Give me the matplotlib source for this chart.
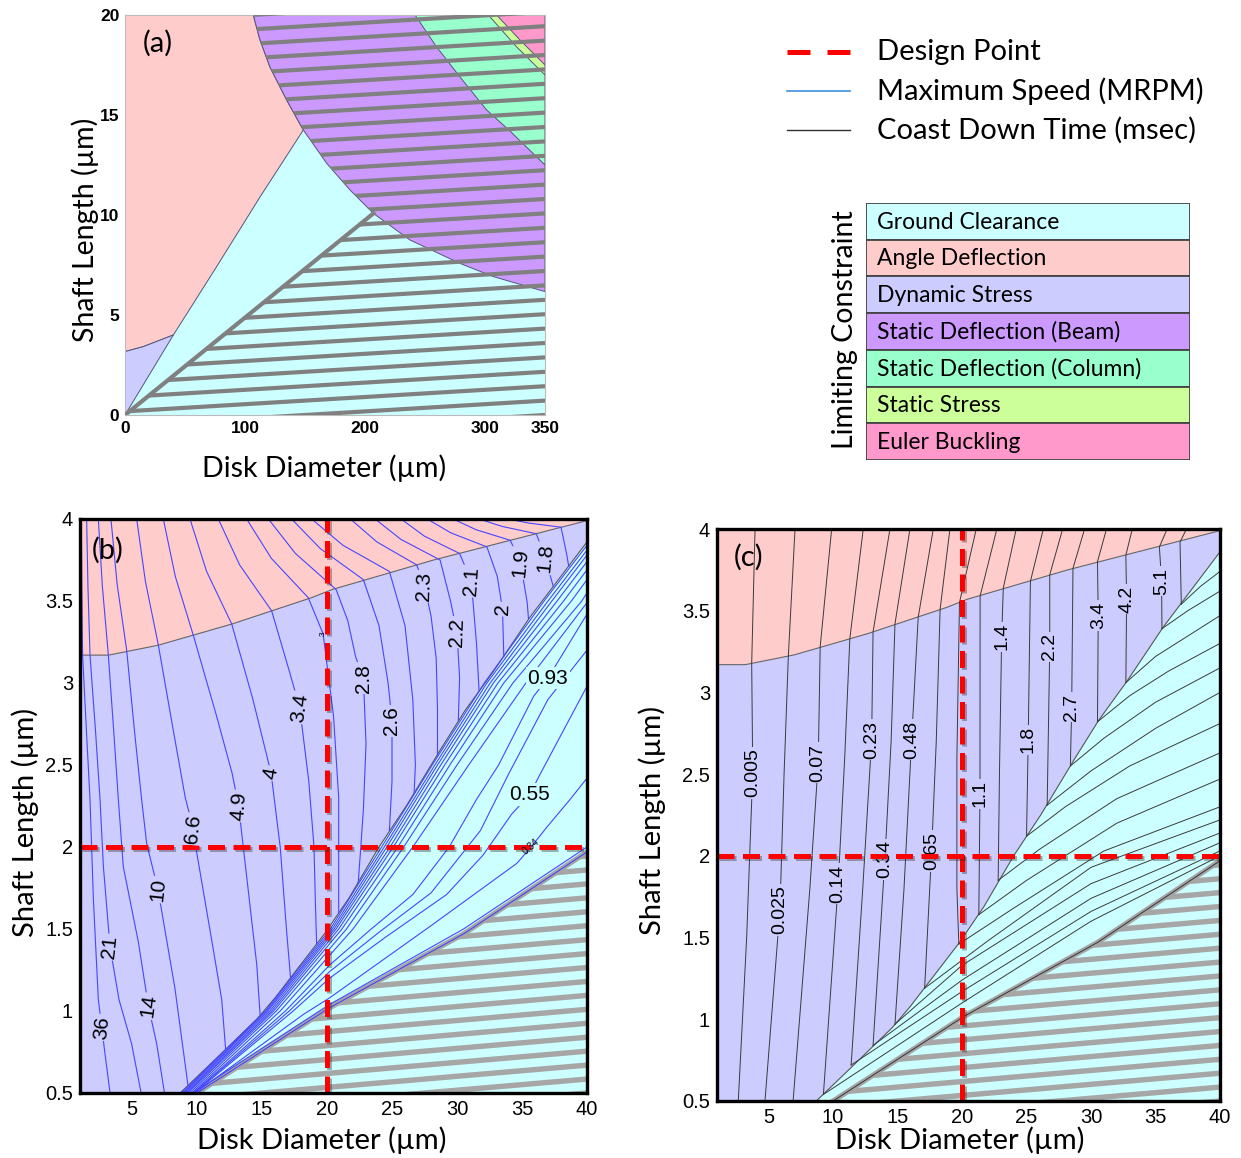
import numpy as np
import matplotlib
matplotlib.use('Agg')
import matplotlib.pyplot as plt
import matplotlib.patheffects as pe
from matplotlib.patches import Polygon, Rectangle
from matplotlib.lines import Line2D

W, H = 1241, 1158
LABEL_FONT = ['Lato', 'DejaVu Sans']
NUM_FONT = ['Liberation Sans', 'DejaVu Sans']

# limiting constraints and the colour used for each one
constraint_names = ['Ground Clearance', 'Angle Deflection', 'Dynamic Stress',
                    'Static Deflection (Beam)', 'Static Deflection (Column)',
                    'Static Stress', 'Euler Buckling']
constraint_colors = ['#CCFFFF', '#FFCCCC', '#CCCCFF', '#CC99FF', '#99FFCC', '#CCFF99', '#FF99CC']
GC, AD, DS, SB, SC, SS, EB = constraint_colors

# ---- (a) whole design space: disk diameter 0-350 um, shaft length 0-20 um
a_dyn_x = [0, 15.3, 40.3]
a_dyn_y = [3.17, 3.42, 4.0]
a_gc_x = [0, 40.3, 76.4, 112.5, 148.6]
a_gc_y = [0, 4.0, 7.42, 10.9, 14.25]
a_beam_up_x = [148.6, 134.7, 120.8, 112.5, 106.9]
a_beam_up_y = [14.25, 15.75, 17.4, 18.75, 20]
a_beam_low_x = [148.6, 168.1, 187.5, 207, 237.5, 279.2, 307, 350]
a_beam_low_y = [14.25, 12.58, 11.25, 10.08, 8.75, 7.58, 6.92, 6.17]
a_col_x = [241.7, 259.7, 279.2, 301.4, 320.8, 350]
a_col_y = [20, 18.4, 16.9, 15.25, 14.2, 12.5]
a_stress_x = [302.8, 326.4, 350]
a_stress_y = [20, 18.4, 17.0]
a_euler_x = [309.7, 329.2, 350]
a_euler_y = [20, 18.75, 17.5]
a_infeasible_x = [0, 207]
a_infeasible_y = [0, 10.08]

# ---- (b), (c) zoom: disk diameter 1-40 um, shaft length 0.5-4 um
z_pink_x = [1, 3.2, 7, 12.7, 18.8, 20.4, 28.2, 34.1, 40]
z_pink_y = [3.17, 3.17, 3.23, 3.36, 3.52, 3.57, 3.75, 3.87, 3.99]
z_gc_x = [8.7, 11.6, 14.6, 16.0, 19.8, 21.7, 24.0, 26.1, 28.7, 30.6, 32.8, 35.6, 40]
z_gc_y = [0.5, 0.72, 0.95, 1.08, 1.47, 1.69, 2.0, 2.25, 2.59, 2.83, 3.07, 3.40, 3.86]
z_infeasible_x = [10.0, 20.2, 30.5, 40]
z_infeasible_y = [0.5, 1.02, 1.47, 1.97]
design_d = 20
design_l = 2

# maximum speed (MRPM) contours, stress / deflection limited part
speed_b = {
    '36': [(1.1, 4.0), (1.14, 3.59), (1.2, 3.17), (1.5, 2.7), (1.77, 2.29), (2.03, 1.68), (2.41, 1.07), (2.92, 0.74), (3.31, 0.5)],
    '21': [(1.51, 4.0), (1.61, 3.59), (1.77, 3.17), (2.2, 2.7), (2.54, 2.29), (2.8, 1.88), (3.31, 1.39), (4.0, 1.07), (4.97, 0.8), (5.7, 0.5)],
    '14': [(2.41, 4.0), (2.72, 3.59), (3.18, 3.17), (3.6, 2.7), (3.95, 2.29), (4.33, 1.88), (5.49, 1.42), (6.26, 1.03), (6.9, 0.8), (7.5, 0.5)],
    '10': [(3.38, 4.0), (3.86, 3.6), (4.59, 3.2), (5.2, 2.7), (5.74, 2.29), (6.13, 2.02), (7.0, 1.74), (8.3, 1.14), (9.3, 0.55)],
    '6.6': [(5.36, 4.0), (6.03, 3.62), (7.03, 3.23), (8.2, 2.7), (9.1, 2.3), (9.72, 2.11), (9.97, 1.97), (11.2, 1.4), (11.9, 1.07), (12.2, 0.77)],
    '4.9': [(7.41, 4.0), (8.33, 3.65), (9.72, 3.29), (11.5, 2.8), (12.7, 2.45), (13.2, 2.25), (13.56, 2.0), (14.6, 1.28), (14.85, 0.98)],
    '4': [(9.46, 4.0), (10.74, 3.68), (12.67, 3.36), (14.3, 2.9), (15.7, 2.45), (16.4, 2.0), (16.9, 1.48), (17.2, 1.2)],
    '3.4': [(11.64, 4.0), (13.28, 3.72), (15.74, 3.44), (17.0, 3.1), (17.9, 2.85), (18.6, 2.4), (19.0, 2.0), (19.1, 1.68), (19.2, 1.41)],
    '3': [(13.82, 4.0), (15.72, 3.76), (18.56, 3.52), (19.7, 3.3), (20.5, 2.8), (20.9, 2.3), (20.9, 2.0), (20.9, 1.6)],
    '2.8': [(15.49, 4.0), (17.57, 3.79), (20.7, 3.57), (21.6, 3.38), (22.2, 3.16), (22.8, 3.03), (23.0, 2.63), (22.8, 2.23), (22.6, 2.0), (22.4, 1.78)],
    '2.6': [(17.28, 4.0), (19.48, 3.82), (22.8, 3.63), (24.0, 3.35), (24.7, 3.0), (25.0, 2.77), (25.0, 2.4), (24.8, 2.1)],
    '2.5': [(18.82, 4.0), (21.22, 3.84), (24.8, 3.68), (26.0, 3.35), (26.6, 2.9), (26.8, 2.5), (26.7, 2.33)],
    '2.3': [(21.8, 4.0), (23.84, 3.86), (26.9, 3.72), (27.5, 3.59), (28.0, 3.41), (28.4, 3.15), (28.5, 2.84), (28.5, 2.56)],
    '2.2': [(23.7, 4.0), (25.7, 3.875), (28.7, 3.75), (29.5, 3.5), (30.0, 3.31), (30.2, 3.03), (30.1, 2.77)],
    '2.1': [(25.7, 4.0), (27.5, 3.895), (30.2, 3.79), (31.1, 3.62), (31.5, 3.24), (31.7, 2.95)],
    '2': [(27.7, 4.0), (29.54, 3.915), (32.3, 3.83), (33.1, 3.65), (33.5, 3.45), (33.6, 3.16)],
    '1.9': [(29.7, 4.0), (31.46, 3.935), (34.1, 3.87), (34.9, 3.73), (35.4, 3.49), (35.5, 3.39)],
    '1.8': [(31.7, 4.0), (33.46, 3.955), (36.1, 3.91), (36.8, 3.76), (37.4, 3.59)],
    '1.7': [(33.9, 4.0), (35.54, 3.975), (38.0, 3.95), (38.4, 3.8), (38.6, 3.71)],
}
# maximum speed contours inside the ground clearance region
speed_gc_b = {
    'g1': [(8.8, 0.5), (15.25, 1.0), (20.25, 1.5), (24.2, 2.0), (28.1, 2.5), (32.1, 3.0), (36.7, 3.5), (40, 3.84)],
    'g2': [(8.9, 0.5), (15.35, 1.0), (20.4, 1.5), (24.4, 2.0), (28.3, 2.5), (32.3, 3.0), (37.0, 3.5), (40, 3.81)],
    'g3': [(9.0, 0.5), (15.45, 1.0), (20.55, 1.5), (24.6, 2.0), (28.5, 2.5), (32.55, 3.0), (37.3, 3.5), (40, 3.78)],
    'g4': [(9.1, 0.5), (15.6, 1.0), (20.7, 1.5), (24.85, 2.0), (28.75, 2.5), (32.8, 3.0), (37.7, 3.5), (40, 3.74)],
    'g5': [(9.2, 0.5), (15.75, 1.0), (20.9, 1.5), (25.1, 2.0), (29.05, 2.5), (33.15, 3.0), (38.2, 3.5), (40, 3.69)],
    'g6': [(9.3, 0.5), (15.9, 1.0), (21.15, 1.5), (25.45, 2.0), (29.45, 2.5), (33.6, 3.0), (38.8, 3.5), (40, 3.63)],
    'g7': [(9.45, 0.5), (16.1, 1.0), (21.5, 1.5), (25.9, 2.0), (30.0, 2.5), (34.3, 3.0), (39.6, 3.5), (40, 3.55)],
    'g8': [(9.6, 0.5), (16.4, 1.0), (22.0, 1.5), (26.6, 2.0), (30.9, 2.5), (35.3, 3.0), (40, 3.49)],
    '0.93': [(9.7, 0.5), (16.8, 1.0), (20.2, 1.28), (23.4, 1.5), (26.6, 1.71), (29.4, 2.0), (31.5, 2.29), (33.2, 2.5), (35.9, 2.92), (37.0, 3.03), (40, 3.42)],
    '0.7': [(9.75, 0.5), (17.1, 1.0), (20.2, 1.24), (24.0, 1.48), (28.0, 1.72), (31.8, 2.1), (34.0, 2.45), (37.0, 2.9), (40, 3.2)],
    '0.55': [(9.8, 0.5), (17.4, 1.0), (20.2, 1.2), (24.5, 1.45), (29.2, 1.71), (32.0, 1.95), (34.2, 2.2), (35.6, 2.32), (36.3, 2.43), (40, 2.98)],
    '0.34': [(9.85, 0.5), (18.2, 0.98), (20.2, 1.08), (28.0, 1.52), (34.6, 1.9), (35.7, 2.0), (36.9, 2.12), (38.7, 2.29), (40, 2.42)],
    'g9': [(9.9, 0.51), (20.2, 1.04), (30.5, 1.5), (40, 2.0)],
}
# label placement (x, y, rotation, size) on the speed contours
speed_label_b = {
    '36': (2.67, 0.9, 84, 15), '21': (3.31, 1.39, 84, 15), '14': (6.26, 1.03, 82, 15),
    '10': (7.0, 1.74, 84, 15), '6.6': (9.72, 2.11, 84, 15), '4.9': (13.2, 2.25, 86, 15),
    '4': (15.7, 2.45, 80, 15), '3.4': (17.9, 2.85, 82, 15), '3': (19.7, 3.3, 90, 6),
    '2.8': (22.8, 3.03, 90, 15), '2.6': (25.0, 2.77, 90, 15), '2.3': (27.5, 3.59, 88, 15),
    '2.2': (30.0, 3.31, 88, 15), '2.1': (31.1, 3.62, 86, 15), '2': (33.5, 3.45, 88, 15),
    '1.9': (34.9, 3.73, 84, 15), '1.8': (36.8, 3.76, 84, 15),
    '0.93': (37.0, 3.03, 0, 15), '0.55': (35.6, 2.32, 0, 15), '0.34': (35.7, 2.0, 40, 7),
}

# coast down time (msec) contours, stress / deflection limited part
coast_c = {
    '0.005': [(3.95, 4.0), (3.69, 3.18), (3.77, 2.51), (3.3, 1.5), (2.65, 0.5)],
    '0.025': [(7.05, 4.0), (6.53, 3.22), (6.2, 2.5), (5.88, 1.67), (4.72, 0.5)],
    '0.07': [(9.89, 4.0), (9.0, 3.28), (8.85, 2.57), (8.2, 1.8), (6.9, 0.5)],
    '0.14': [(12.34, 4.0), (11.3, 3.33), (10.9, 2.6), (10.4, 1.83), (9.25, 0.54)],
    '0.23': [(14.41, 4.0), (13.1, 3.37), (12.99, 2.71), (12.3, 1.8), (11.4, 0.72)],
    '0.34': [(15.96, 4.0), (14.8, 3.42), (14.5, 2.7), (14.02, 1.98), (13.1, 0.84)],
    '0.48': [(17.77, 4.0), (16.6, 3.46), (16.09, 2.71), (15.5, 1.8), (14.8, 0.97)],
    '0.65': [(19.06, 4.0), (18.3, 3.51), (18.0, 2.7), (17.64, 2.03), (17.1, 1.19)],
    '0.85': [(21.1, 4.0), (19.8, 3.55), (19.6, 2.6), (19.6, 1.8), (19.75, 1.46)],
    '1.1': [(22.7, 4.0), (21.4, 3.59), (21.39, 2.38), (21.3, 1.64)],
    '1.4': [(24.2, 4.0), (23.2, 3.64), (23.07, 3.34), (22.9, 2.5), (22.8, 1.85)],
    '1.8': [(26.3, 4.0), (25.3, 3.68), (25.13, 2.71), (25.0, 2.12)],
    '2.2': [(27.8, 4.0), (26.8, 3.72), (26.8, 3.28), (26.6, 2.31)],
    '2.7': [(29.5, 4.0), (28.6, 3.76), (28.5, 2.91), (28.4, 2.56)],
    '3.4': [(31.2, 4.0), (30.5, 3.8), (30.56, 3.47), (30.5, 2.82)],
    '4.2': [(33.2, 4.0), (32.7, 3.84), (32.76, 3.57), (32.7, 3.06)],
    '5.1': [(35.9, 4.0), (35.3, 3.89), (35.47, 3.68), (35.5, 3.39)],
    '6.2': [(37.4, 4.0), (36.9, 3.92), (37.0, 3.54)],
}
# coast down time contours inside the ground clearance region
coast_gc_c = [
    [(9.25, 0.54), (20, 1.1), (30, 1.6), (40, 2.0)],
    [(11.4, 0.72), (20, 1.17), (30, 1.66), (40, 2.03)],
    [(13.1, 0.84), (20, 1.24), (30, 1.74), (40, 2.08)],
    [(14.8, 0.97), (20, 1.33), (30, 1.83), (40, 2.14)],
    [(17.1, 1.19), (22, 1.48), (30, 1.93), (40, 2.22)],
    [(19.75, 1.46), (24, 1.68), (31, 2.03), (40, 2.30)],
    [(21.3, 1.64), (25, 1.85), (32, 2.2), (40, 2.47)],
    [(22.8, 1.85), (26, 2.04), (32, 2.35), (40, 2.63)],
    [(25.0, 2.12), (28, 2.3), (33, 2.55), (40, 2.81)],
    [(26.6, 2.31), (30, 2.52), (35, 2.78), (40, 3.0)],
    [(28.4, 2.55), (31, 2.72), (35, 2.94), (40, 3.15)],
    [(30.5, 2.82), (33, 2.98), (36, 3.13), (40, 3.30)],
    [(32.7, 3.06), (35, 3.22), (40, 3.47)],
    [(35.5, 3.39), (37.5, 3.5), (40, 3.62)],
    [(37.0, 3.54), (38.5, 3.65), (40, 3.74)],
]
coast_label_c = {
    '0.005': (3.77, 2.51), '0.025': (5.88, 1.67), '0.07': (8.85, 2.57), '0.14': (10.4, 1.83),
    '0.23': (12.99, 2.71), '0.34': (14.02, 1.98), '0.48': (16.09, 2.71), '0.65': (17.64, 2.03),
    '1.1': (21.39, 2.38), '1.4': (23.07, 3.34), '1.8': (25.13, 2.71), '2.2': (26.8, 3.28),
    '2.7': (28.5, 2.91), '3.4': (30.56, 3.47), '4.2': (32.76, 3.57), '5.1': (35.47, 3.68),
}


def fig_box(left, top, right, bottom):
    return [left / W, 1 - bottom / H, (right - left) / W, (bottom - top) / H]


def hatch(ax, verts, x0, x1, y0, y1, step, slope, color, lw):
    clip = Polygon(verts, closed=True, facecolor='none', edgecolor='none')
    ax.add_patch(clip)
    for c in np.arange(y0 - slope * (x1 - x0), y1 + step, step):
        ln, = ax.plot([x0, x1], [c, c + slope * (x1 - x0)], color=color, lw=lw,
                      solid_capstyle='butt', zorder=3)
        ln.set_clip_path(clip)


def draw_line(ax, pts, color, lw, z=4):
    xs, ys = zip(*pts)
    ax.plot(xs, ys, color=color, lw=lw, zorder=z)


def axis_labels(ax, xpos, ypos, size):
    ax.set_xlabel('Disk Diameter (µm)', family=LABEL_FONT, fontsize=size)
    ax.set_ylabel('Shaft Length (µm)', family=LABEL_FONT, fontsize=size)
    ax.xaxis.set_label_coords(*xpos)
    ax.yaxis.set_label_coords(*ypos)
    ax.xaxis.label.set_va('center')
    ax.yaxis.label.set_va('center')


fig = plt.figure(figsize=(W / 100, H / 100), dpi=100)

# ---------------- (a)
ax = fig.add_axes(fig_box(125, 15, 545, 415))
ax.set_facecolor(GC)
pink = list(zip(a_dyn_x, a_dyn_y)) + list(zip(a_gc_x, a_gc_y))[2:] + list(zip(a_beam_up_x, a_beam_up_y))[1:] + [(0, 20)]
lav = [(0, 0), (a_dyn_x[2], a_dyn_y[2])] + list(zip(a_dyn_x, a_dyn_y))[1::-1]
beam = list(zip(a_beam_up_x, a_beam_up_y))[::-1] + list(zip(a_beam_low_x, a_beam_low_y))[1:] + [(350, 20)]
col = list(zip(a_col_x, a_col_y)) + [(350, 20)]
stress = list(zip(a_stress_x, a_stress_y)) + [(350, 20)]
euler = list(zip(a_euler_x, a_euler_y)) + [(350, 20)]
for verts, fc in [(pink, AD), (lav, DS), (beam, SB), (col, SC), (stress, SS), (euler, EB)]:
    ax.add_patch(Polygon(verts, closed=True, facecolor=fc, edgecolor='#55557a', lw=0.7, zorder=1))
hatched = (list(zip(a_infeasible_x, a_infeasible_y)) + list(zip(a_beam_low_x, a_beam_low_y))[3::-1]
           + list(zip(a_beam_up_x, a_beam_up_y))[1:] + [(350, 20), (350, 0)])
hatch(ax, hatched, 0, 350, 0, 20, 0.72, 0.0036, '#808080', 3.0)
ax.plot(a_infeasible_x, a_infeasible_y, color='#808080', lw=3.0, zorder=3)
ax.set_xlim(0, 350)
ax.set_ylim(0, 20)
ax.set_xticks([0, 100, 200, 300, 350])
ax.set_yticks([0, 5, 10, 15, 20])
ax.tick_params(length=0, pad=4)
for t in ax.get_xticklabels() + ax.get_yticklabels():
    t.set_family(NUM_FONT)
    t.set_fontsize(12.5)
    t.set_fontweight('bold')
for s in ax.spines.values():
    s.set_color('#bbbbbb')
    s.set_linewidth(0.8)
axis_labels(ax, (0.474, -0.1325), (-0.095, 0.4625), 20.5)
ax.text(0.079, 0.93, '(a)', transform=ax.transAxes, family=LABEL_FONT, fontsize=21,
        ha='center', va='center')


# ---------------- (b) and (c)
def zoom_panel(box, edge_color):
    ax = fig.add_axes(box)
    ax.set_facecolor(DS)
    ax.add_patch(Polygon(list(zip(z_pink_x, z_pink_y)) + [(40, 4.0), (1, 4.0)], closed=True,
                         facecolor=AD, edgecolor='none', zorder=1))
    ax.add_patch(Polygon(list(zip(z_gc_x, z_gc_y)) + [(40, 0.5)], closed=True,
                         facecolor=GC, edgecolor='none', zorder=1))
    ax.plot(z_pink_x, z_pink_y, color='#666666', lw=0.8, zorder=2)
    ax.plot(z_gc_x, z_gc_y, color='#555555', lw=0.8, zorder=2)
    hatch(ax, list(zip(z_infeasible_x, z_infeasible_y)) + [(40, 0.5)],
          1, 40, 0.5, 2.0, 0.085, 0.0068, '#a6a6a6', 3.9)
    ax.plot(z_infeasible_x, z_infeasible_y, color='#a6a6a6', lw=3.8, zorder=3)
    ax.plot(z_infeasible_x, z_infeasible_y, color=edge_color, lw=0.7, zorder=3.5)
    ax.set_xlim(1, 40)
    ax.set_ylim(0.5, 4)
    ax.set_xticks(range(5, 41, 5))
    ax.set_yticks([0.5, 1, 1.5, 2, 2.5, 3, 3.5, 4])
    ax.set_yticklabels(['0.5', '1', '1.5', '2', '2.5', '3', '3.5', '4'])
    ax.tick_params(length=0, pad=5)
    for t in ax.get_xticklabels() + ax.get_yticklabels():
        t.set_family(NUM_FONT)
        t.set_fontsize(14.5)
    for s in ax.spines.values():
        s.set_color('black')
        s.set_linewidth(2.4)
        s.set_zorder(10)
    return ax


def design_point(ax):
    fx = [pe.SimpleLineShadow(offset=(1.5, -1.5), shadow_color='#202020', alpha=0.35), pe.Normal()]
    ax.axvline(design_d, color='#ff0000', lw=3.6, ls=(0, (3.4, 1.7)), zorder=6, path_effects=fx)
    ax.axhline(design_l, color='#ff0000', lw=3.6, ls=(0, (3.4, 1.7)), zorder=6, path_effects=fx)


# (b) maximum speed
ax = zoom_panel(fig_box(80, 519, 587, 1093), '#3b3bff')
for pts in speed_b.values():
    draw_line(ax, pts, '#4646ff', 0.8)
for pts in speed_gc_b.values():
    draw_line(ax, pts, '#4646ff', 0.8)
design_point(ax)
for txt, (x, y, rot, size) in speed_label_b.items():
    fc = GC if txt.startswith('0.') else DS
    bbox = None if size < 10 else dict(boxstyle='square,pad=0.08', fc=fc, ec='none')
    ax.text(x, y, txt, rotation=rot, ha='center', va='center', family=NUM_FONT,
            fontsize=size, bbox=bbox, zorder=7)
axis_labels(ax, (0.477, -0.082), (-0.108, 0.472), 21)
ax.text(0.055, 0.946, '(b)', transform=ax.transAxes, family=LABEL_FONT, fontsize=21,
        ha='center', va='center', zorder=8)

# (c) coast down time
ax = zoom_panel(fig_box(717, 529, 1220, 1101), '#333333')
for pts in coast_c.values():
    draw_line(ax, pts, '#3a3a3a', 0.7)
for pts in coast_gc_c:
    draw_line(ax, pts, '#3a3a3a', 0.7)
design_point(ax)
for txt, (x, y) in coast_label_c.items():
    ax.text(x, y, txt, rotation=90, ha='center', va='center', family=NUM_FONT,
            fontsize=14, bbox=dict(boxstyle='square,pad=0.08', fc=DS, ec='none'), zorder=5)
axis_labels(ax, (0.483, -0.068), (-0.129, 0.491), 21)
ax.text(0.062, 0.951, '(c)', transform=ax.transAxes, family=LABEL_FONT, fontsize=21,
        ha='center', va='center', zorder=8)

# ---------------- line legend
legend_rows = [('Design Point', '#ff0000', 3.6, (0, (4.6, 3.4)), 52),
               ('Maximum Speed (MRPM)', '#3d8fdc', 1.2, '-', 91),
               ('Coast Down Time (msec)', '#303030', 1.0, '-', 130)]
for label, color, lw, ls, py in legend_rows:
    fig.add_artist(Line2D([787 / W, 850 / W], [1 - py / H, 1 - py / H], color=color,
                          lw=lw, ls=ls, transform=fig.transFigure))
    fig.text(877 / W, 1 - py / H, label, family=LABEL_FONT, fontsize=21, va='center', ha='left')

# ---------------- constraint colour key
key = fig.add_axes(fig_box(866, 203, 1190, 460))
key.set_xlim(0, 1)
key.set_ylim(len(constraint_names), 0)
key.axis('off')
for i, (name, color) in enumerate(zip(constraint_names, constraint_colors)):
    key.add_patch(Rectangle((0, i), 1, 1, facecolor=color, edgecolor='#444444', lw=1.3))
    key.text(0.035, i + 0.52, name, family=LABEL_FONT, fontsize=16.5, va='center', ha='left')
fig.text(845 / W, 1 - 330 / H, 'Limiting Constraint', rotation=90, family=LABEL_FONT,
         fontsize=20.5, ha='center', va='center')

fig.savefig('out.png', dpi=100)
